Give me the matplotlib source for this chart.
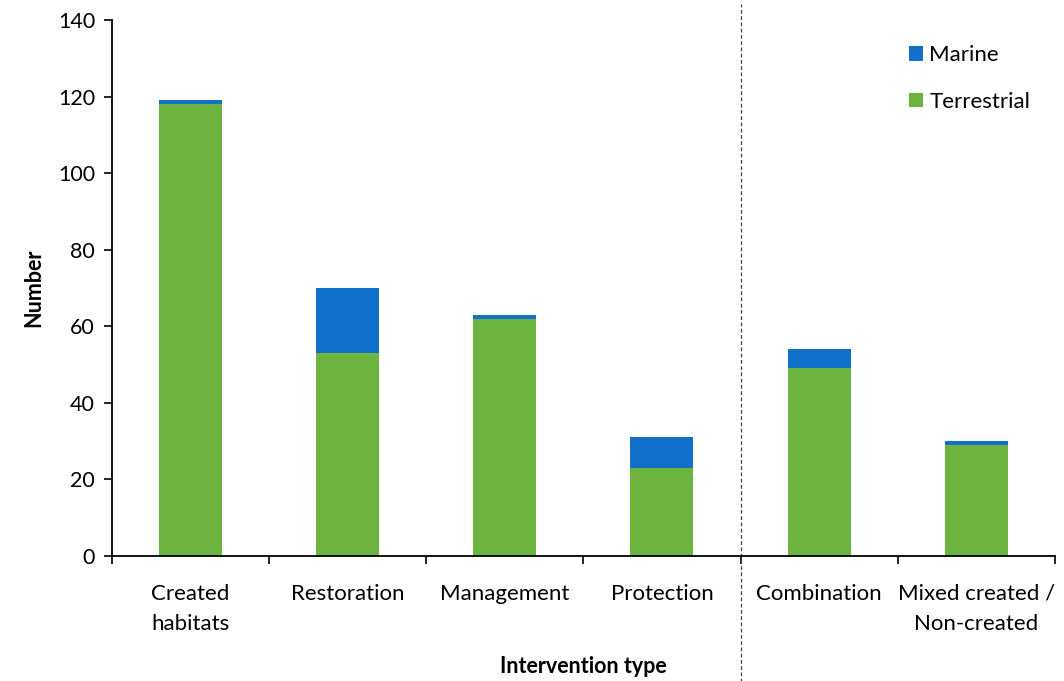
import numpy as np
import matplotlib.pyplot as plt

categories = ["Created\nhabitats", "Restoration", "Management", "Protection",
              "Combination", "Mixed created /\nNon-created"]
terrestrial = [118, 53, 62, 23, 49, 29]
marine = [1, 17, 1, 8, 5, 1]

green = "#6DB33F"
blue = "#1170CA"

plt.rcParams['font.family'] = ['Lato', 'DejaVu Sans']

fig = plt.figure(figsize=(10.64, 6.81), dpi=100)
ax = fig.add_axes([0.105, 0.1836, 0.8865, 0.787])

x = np.arange(len(categories))
ax.bar(x, terrestrial, width=0.4, color=green, label="Terrestrial")
ax.bar(x, marine, width=0.4, bottom=terrestrial, color=blue, label="Marine")

ax.set_xlim(-0.5, len(categories) - 0.5)
ax.set_ylim(0, 140)
ax.set_yticks(np.arange(0, 141, 20))
ax.tick_params(axis='y', labelsize=15.5, length=6, width=1.2, pad=6)

# category labels centred, tick marks between categories
ax.set_xticks(x)
ax.set_xticklabels(categories, fontsize=16, linespacing=1.65)
ax.tick_params(axis='x', which='major', length=0, pad=20)
ax.set_xticks(np.arange(-0.5, len(categories)), minor=True)
ax.tick_params(axis='x', which='minor', length=6, width=1.2, direction='out')

for s in ['top', 'right']:
    ax.spines[s].set_visible(False)
for s in ['left', 'bottom']:
    ax.spines[s].set_linewidth(1.3)

ax.set_ylabel("Number", fontsize=15.5, fontweight='bold', labelpad=10)
ax.set_xlabel("Intervention type", fontsize=15.5, fontweight='bold', labelpad=16)

ax.axvline(3.5, ymin=-0.235, ymax=1.03, color='#444444', linestyle=(0, (3, 2)),
           linewidth=0.9, clip_on=False)

h, l = ax.get_legend_handles_labels()
ax.legend(h[::-1], l[::-1], loc='upper right', bbox_to_anchor=(0.995, 0.99),
          frameon=False, fontsize=16, handlelength=0.6, handleheight=0.6,
          handletextpad=0.3, labelspacing=1.2)

fig.savefig("out.png", dpi=100)
